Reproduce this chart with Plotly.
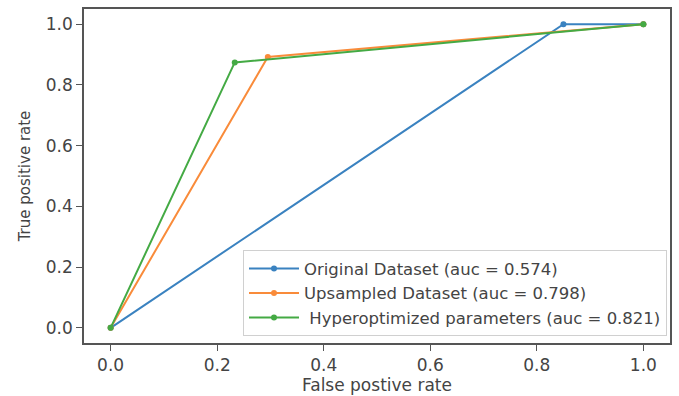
import plotly.graph_objects as go

names = ["Original Dataset (auc = 0.574)",
         "Upsampled Dataset (auc = 0.798)",
         "\u00a0Hyperoptimized parameters (auc = 0.821)"]
fpr_original = [0.0, 0.85, 1.0]
tpr_original = [0.0, 1.0, 1.0]
fpr_upsampled = [0.0, 0.295, 1.0]
tpr_upsampled = [0.0, 0.892, 1.0]
fpr_hyper = [0.0, 0.233, 1.0]
tpr_hyper = [0.0, 0.874, 1.0]
colors = ["#3a82c0", "#f98b3a", "#44aa44"]

fig = go.Figure()
for name, xs, ys, c in zip(names,
                           [fpr_original, fpr_upsampled, fpr_hyper],
                           [tpr_original, tpr_upsampled, tpr_hyper],
                           colors):
    fig.add_trace(go.Scatter(x=xs, y=ys, mode="lines+markers", name=name,
                             line=dict(color=c, width=2),
                             marker=dict(color=c, size=6)))

font = "DejaVu Sans, Arial, sans-serif"
ticks = [0, 0.2, 0.4, 0.6, 0.8, 1.0]
tick_labels = ["0.0", "0.2", "0.4", "0.6", "0.8", "1.0"]
axis_common = dict(showgrid=False, zeroline=False, showline=True, mirror=True,
                   linecolor="#555", linewidth=1.5, ticks="outside", ticklen=6,
                   tickwidth=1.3, tickcolor="#555", automargin=False,
                   tickfont=dict(size=17, color="#444", family=font))
fig.update_layout(
    width=679, height=396,
    margin=dict(l=84, r=9, t=9, b=53),
    paper_bgcolor="white", plot_bgcolor="white",
    font=dict(family=font, size=16, color="#444"),
    xaxis=dict(range=[-0.05, 1.05], tickvals=ticks, ticktext=tick_labels,
               title=dict(text="False postive rate", font=dict(size=17), standoff=4),
               **axis_common),
    yaxis=dict(range=[-0.05, 1.05], tickvals=ticks, ticktext=tick_labels,
               title=dict(text="True positive rate", font=dict(size=15), standoff=12),
               **axis_common),
    legend=dict(x=0.9949, y=0.02, xanchor="right", yanchor="bottom",
                bgcolor="rgba(255,255,255,0.85)", bordercolor="#d0d0d0", borderwidth=1,
                font=dict(size=16.5, color="#444", family=font),
                itemwidth=50, tracegroupgap=0),
    showlegend=True,
)
fig.write_html("out.html", config={"displayModeBar": False},
               post_script="document.body.style.margin='0';")
